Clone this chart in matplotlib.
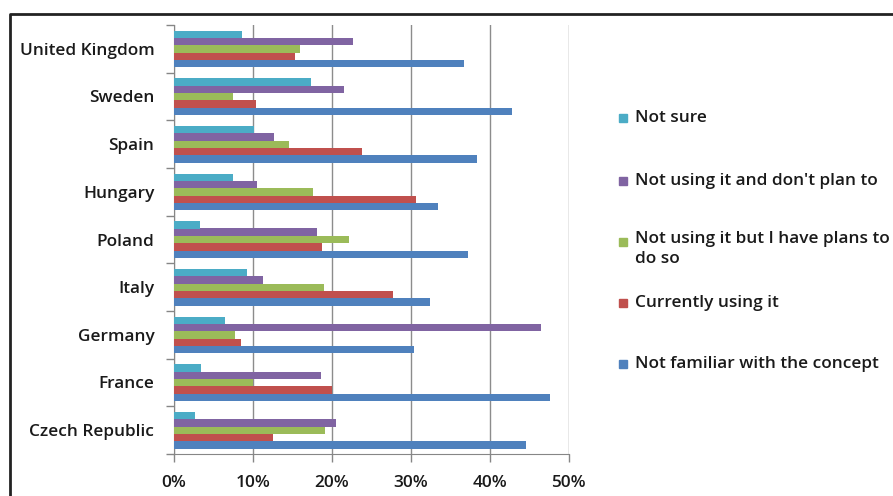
import numpy as np
import matplotlib.pyplot as plt
from matplotlib.patches import Rectangle
from matplotlib.lines import Line2D

countries = ['Czech Republic', 'France', 'Germany', 'Italy', 'Poland',
             'Hungary', 'Spain', 'Sweden', 'United Kingdom']

# share of respondents per answer, bottom-to-top order of the groups
not_familiar = [44.6, 47.6, 30.4, 32.4, 37.3, 33.4, 38.4, 42.8, 36.8]
currently_using = [12.6, 20.1, 8.5, 27.8, 18.8, 30.7, 23.8, 10.4, 15.4]
plans_to = [19.1, 10.1, 7.7, 19.0, 22.2, 17.6, 14.6, 7.5, 16.0]
no_plans = [20.5, 18.7, 46.5, 11.3, 18.2, 10.5, 12.7, 21.6, 22.7]
not_sure = [2.7, 3.5, 6.5, 9.3, 3.3, 7.5, 10.2, 17.4, 8.6]

series = [
    ('Not familiar with the concept', not_familiar, '#4F81BD'),
    ('Currently using it', currently_using, '#C0504D'),
    ('Not using it but I have plans to\ndo so', plans_to, '#9BBB59'),
    ("Not using it and don't plan to", no_plans, '#8064A2'),
    ('Not sure', not_sure, '#4BACC6'),
]

plt.rcParams['font.family'] = ['Open Sans', 'DejaVu Sans']
FS = 12.4
FW = 'semibold'
TC = '#1a1a1a'

W, H = 893, 496
fig = plt.figure(figsize=(W / 100, H / 100), dpi=100)
ax = fig.add_axes([173.7 / W, 1 - 454 / H, (568.7 - 173.7) / W, (454 - 25) / H])

y = np.arange(len(countries))
bh = 1 / 6.5
for j, (name, vals, col) in enumerate(series):
    ax.barh(y - 2.5 * bh + (j + 0.5) * bh, vals, height=bh, color=col,
            edgecolor='none', zorder=3)

ax.set_xlim(0, 50)
ax.set_ylim(-0.5, len(countries) - 0.5)
ax.set_xticks(range(0, 51, 10))
ax.set_xticklabels([f'{v}%' for v in range(0, 51, 10)], fontsize=FS,
                   fontweight=FW, color=TC)
ax.set_yticks(y)
ax.set_yticklabels(countries, fontsize=FS, fontweight=FW, color=TC)
ax.set_yticks(np.arange(-0.5, len(countries)), minor=True)
ax.tick_params(axis='y', which='major', length=0, pad=14)
ax.tick_params(axis='y', which='minor', length=6, color='#868686', width=1)
ax.tick_params(axis='x', length=6, color='#868686', width=1, pad=9)

ax.grid(axis='x', color='#8c8c8c', linewidth=1, zorder=0)
for s in ('top', 'right'):
    ax.spines[s].set_visible(False)
ax.spines['left'].set_color('#868686')
ax.spines['bottom'].set_color('#868686')

# legend, top entry first
rows = [118, 181, 242, 303, 364]
for (name, vals, col), ty in zip(series[::-1], rows):
    fig.add_artist(Rectangle((619 / W, 1 - (ty + 4) / H), 8 / W, 8 / H,
                             transform=fig.transFigure, color=col))
    if '\n' in name:
        fig.text(635 / W, 1 - (ty - 11) / H, name, fontsize=FS,
                 fontweight=FW, color=TC, va='top', linespacing=1.3)
    else:
        fig.text(635 / W, 1 - ty / H, name, fontsize=FS, fontweight=FW,
                 color=TC, va='center')

# chart frame
fig.add_artist(Line2D([10 / W, 10 / W, 1], [0, 1 - 14 / H, 1 - 14 / H],
                      transform=fig.transFigure, color='#222222', linewidth=2))

fig.savefig('out.png', dpi=100)
